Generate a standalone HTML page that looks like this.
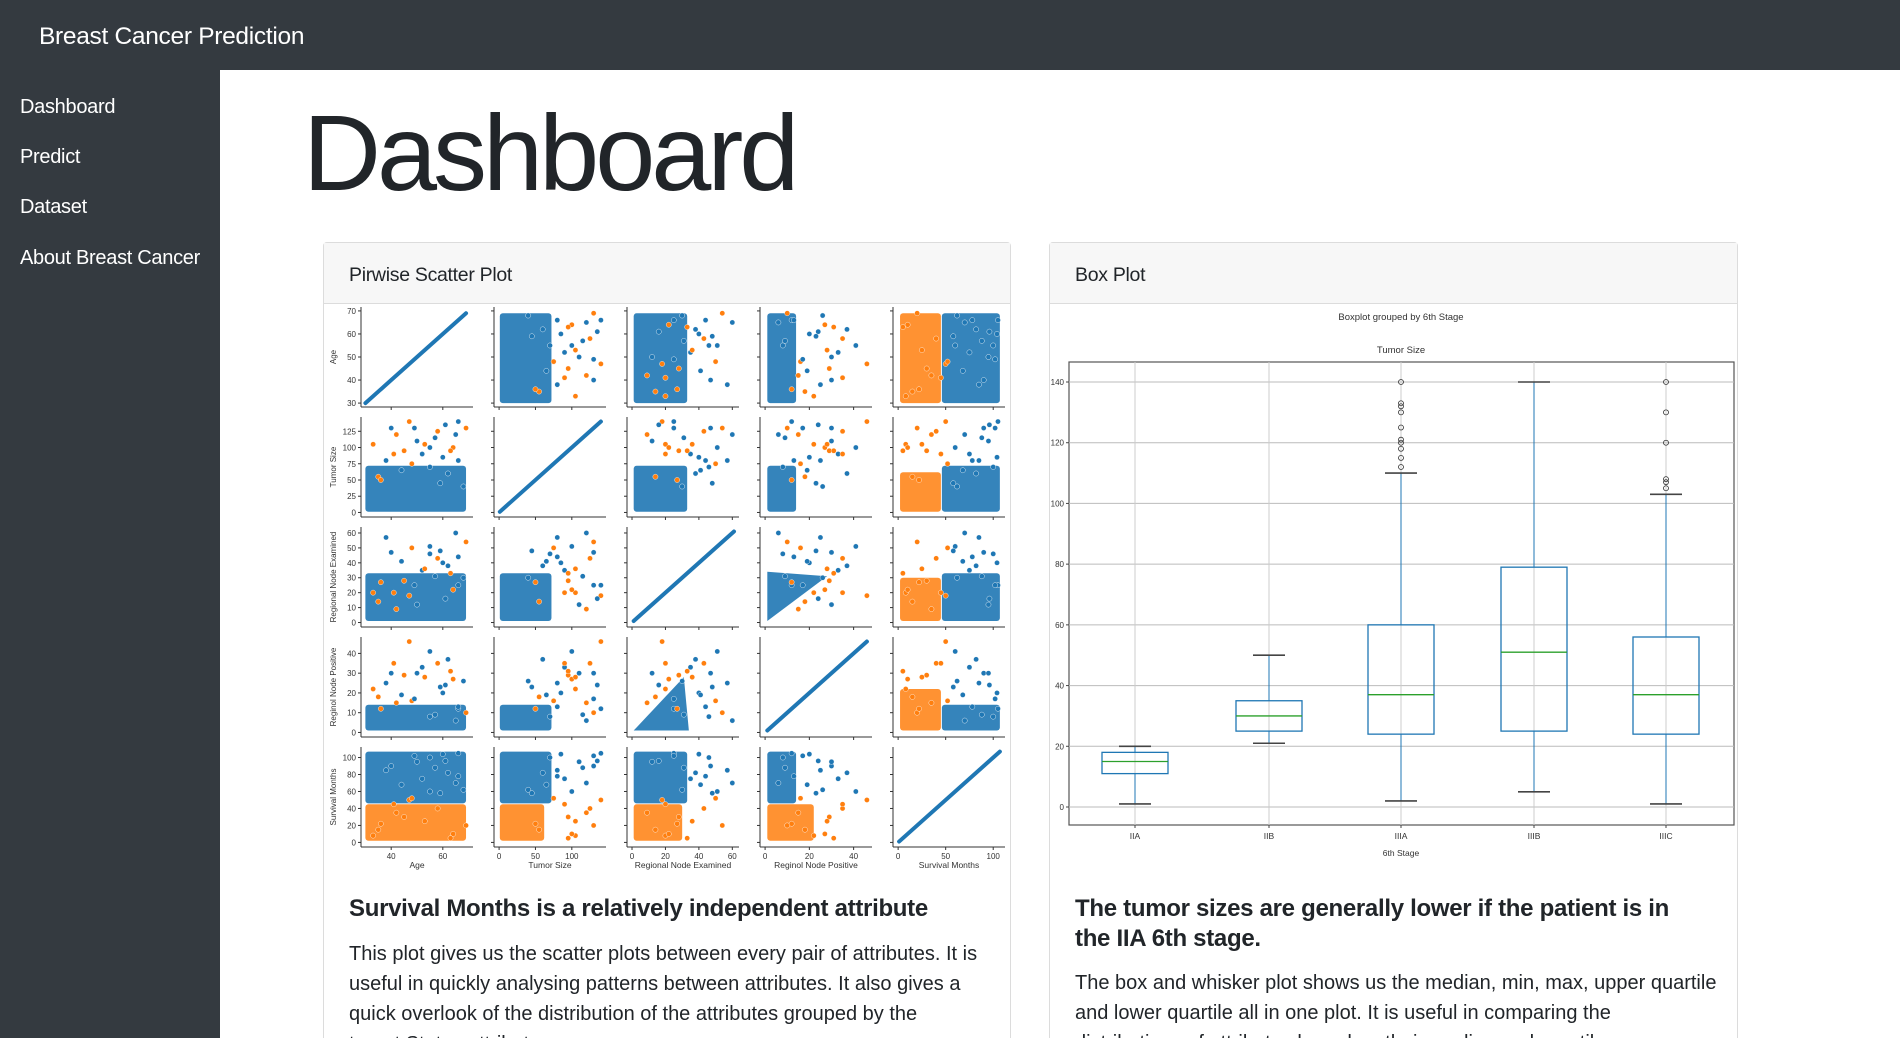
<!DOCTYPE html>
<html><head><meta charset="utf-8"><style>
*{box-sizing:border-box;margin:0;padding:0}
html,body{width:1900px;height:1038px;overflow:hidden}
body{background:#fff;font-family:"Liberation Sans",sans-serif;color:#212529;position:relative}
.topbar{position:absolute;left:0;top:0;width:1900px;height:70px;background:#343a40}
.brand{position:absolute;left:39px;top:23px;font-size:24.5px;color:#fff;letter-spacing:-0.3px}
.side{position:absolute;left:0;top:70px;width:220px;height:968px;background:#343a40}
.nav{position:absolute;left:20px;font-size:20px;color:#fff;letter-spacing:-0.3px}
h1{position:absolute;left:303px;top:99px;font-size:108px;font-weight:normal;letter-spacing:-4px;color:#212529;line-height:1}
.card{position:absolute;top:242px;height:796px;border:1px solid #dcdcdc;border-bottom:none;border-radius:4px 4px 0 0;background:#fff}
.chead{height:61px;background:#f7f7f7;border-bottom:1px solid #dcdcdc;font-size:19.5px;padding:21px 0 0 25px;letter-spacing:-0.3px}
.h5{position:absolute;font-size:24px;font-weight:bold;white-space:nowrap;letter-spacing:-0.3px;line-height:30px}
.p{position:absolute;font-size:20px;white-space:nowrap;line-height:30px;letter-spacing:0px}
svg{position:absolute;left:0;top:0}
</style></head><body>
<div class="topbar"><div class="brand">Breast Cancer Prediction</div></div>
<div class="side">
<div class="nav" style="top:26px">Dashboard</div>
<div class="nav" style="top:76px">Predict</div>
<div class="nav" style="top:126px">Dataset</div>
<div class="nav" style="top:177px">About Breast Cancer</div>
</div>
<h1>Dashboard</h1>
<div class="card" style="left:323px;width:688px"><div class="chead">Pirwise Scatter Plot</div></div>
<div class="card" style="left:1049px;width:689px"><div class="chead">Box Plot</div></div>
<div class="h5" style="left:349px;top:894px">Survival Months is a relatively independent attribute</div>
<div class="p" style="left:349px;top:939px">This plot gives us the scatter plots between every pair of attributes. It is<br>useful in quickly analysing patterns between attributes. It also gives a<br>quick overlook of the distribution of the attributes grouped by the<br>target Status attribute.</div>
<div class="h5" style="left:1075px;top:894px">The tumor sizes are generally lower if the patient is in<br>the IIA 6th stage.</div>
<div class="p" style="left:1075px;top:968px">The box and whisker plot shows us the median, min, max, upper quartile<br>and lower quartile all in one plot. It is useful in comparing the<br>distributions of attributes based on their median and quartiles.</div>
<svg id="chart" width="1900" height="1038"></svg>
<script>
// ---------- scatter matrix data ----------
const varNames=['Age','Tumor Size','Regional Node Examined','Reginol Node Positive','Survival Months'];
const domLo=[28.3,-7,-3,-2.3,-5.4];
const domHi=[71.7,147,64,48.3,112.4];
const xTicks=[[40,60],[0,50,100],[0,20,40,60],[0,20,40],[0,50,100]];
const yTicks=[[30,40,50,60,70],[0,25,50,75,100,125],[0,10,20,30,40,50,60],[0,10,20,30,40],[0,20,40,60,80,100]];
const diagMin=[30,1,1,1,1];
const diagMax=[69,140,61,46,107];
const blueLo=[30,1,1,1,46];
const blueHi=[69,72,33,14,107];
const orangeLo=[30,1,1,1,2];
const orangeHi=[69,62,30,22,45];
const triRNE=[1,34,31];
const triRNP=[1,1,28];
// sparse records: age, tumor, rne, rnp, sm, dead
const records=[
[47,140,18,46,50,1],[65,120,60,6,70,0],[40,130,47,30,90,0],[55,100,51,41,60,0],[66,140,25,12,105,0],
[33,105,20,22,8,1],[58,125,43,35,40,1],[60,85,40,20,104,0],[45,95,28,29,30,1],[69,130,54,10,20,1],
[38,80,57,25,85,0],[50,110,12,30,95,0],[62,60,38,37,82,0],[42,120,9,15,35,1],[55,70,46,8,100,0],
[68,40,30,26,62,0],[35,55,14,18,15,1],[52,90,35,33,75,0],[64,100,22,27,10,1],[48,75,50,16,52,1],
[57,115,31,9,88,0],[44,65,41,19,68,0],[61,135,16,24,96,0],[36,50,27,12,22,1],[53,105,36,28,25,1],
[66,80,44,13,78,0],[41,90,20,35,45,1],[59,45,48,23,58,0],[49,130,25,17,102,0],[63,95,33,31,5,1]
];
// ---------- box plot data ----------
const stages=['IIA','IIB','IIIA','IIIB','IIIC'];
const whiskLo=[1,21,2,5,1];
const q1=[11,25,24,25,24];
const med=[15,30,37,51,37];
const q3=[18,35,60,79,56];
const whiskHi=[20,50,110,140,103];
const outliers=[[],[],[112,115,118,120,121,125,130,132,133,140],[],[105,107,108,120,130,140]];
const boxTicks=[0,20,40,60,80,100,120,140];

const NS='http://www.w3.org/2000/svg';
const svg=document.getElementById('chart');
function mk(tag,attrs,parent){const e=document.createElementNS(NS,tag);for(const k in attrs)e.setAttribute(k,attrs[k]);(parent||svg).appendChild(e);return e;}

// ---- scatter matrix ----
const colLeft=361,colPitch=133,panW=112,rowTop=307,rowPitch=110,panH=100;
const BLUE='#1f77b4',ORANGE='#ff7f0e';
for(let r=0;r<5;r++){for(let c=0;c<5;c++){
  const x0=colLeft+c*colPitch,y0=rowTop+r*rowPitch;
  const sx=v=>x0+(v-domLo[c])/(domHi[c]-domLo[c])*panW;
  const sy=v=>y0+panH-(v-domLo[r])/(domHi[r]-domLo[r])*panH;
  const g=mk('g',{});
  
  
  if(r===c){
    const ln=mk('line',{x1:sx(diagMin[c]),y1:sy(diagMin[r]),x2:sx(diagMax[c]),y2:sy(diagMax[r]),stroke:BLUE,'stroke-width':4,'stroke-linecap':'round'},g);
    
    
  } else if((r===2&&c===3)||(r===3&&c===2)){
    const pts=triRNE.map((e,i)=>{const p=triRNP[i];return r===2?sx(p)+','+sy(e):sx(e)+','+sy(p);}).join(' ');
    const tri=mk('polygon',{points:pts,fill:BLUE,opacity:0.9},g);
    
    
  } else {
    const b=mk('rect',{x:sx(blueLo[c]),y:sy(blueHi[r]),width:sx(blueHi[c])-sx(blueLo[c]),height:sy(blueLo[r])-sy(blueHi[r]),fill:BLUE,opacity:0.9,rx:3},g);
    
    
    if(r===4||c===4){
      const o=mk('rect',{x:sx(orangeLo[c]),y:sy(orangeHi[r]),width:sx(orangeHi[c])-sx(orangeLo[c]),height:sy(orangeLo[r])-sy(orangeHi[r]),fill:ORANGE,opacity:0.85,rx:3},g);
      
      
    }
  }
  if(r!==c){records.forEach(rec=>{
    const cc=mk('circle',{cx:sx(rec[c]),cy:sy(rec[r]),r:2.6,fill:rec[5]?ORANGE:BLUE,stroke:'#fff','stroke-width':0.4},g);
    
    
  });}
  mk('line',{x1:x0,y1:y0,x2:x0,y2:y0+panH,stroke:'#333','stroke-width':1},g);
  mk('line',{x1:x0,y1:y0+panH,x2:x0+panW,y2:y0+panH,stroke:'#333','stroke-width':1},g);
  yTicks[r].forEach(t=>{mk('line',{x1:x0-3,x2:x0,y1:sy(t),y2:sy(t),stroke:'#333'},g);
    if(c===0){const tx=mk('text',{x:x0-5,y:sy(t)+3,'font-size':8,'text-anchor':'end',fill:'#333'},g);tx.textContent=t;
      }});
  xTicks[c].forEach(t=>{mk('line',{x1:sx(t),x2:sx(t),y1:y0+panH,y2:y0+panH+3,stroke:'#333'},g);
    if(r===4){const tx=mk('text',{x:sx(t),y:y0+panH+12,'font-size':8,'text-anchor':'middle',fill:'#333'},g);tx.textContent=t;
      }});
}}
for(let i=0;i<5;i++){
  const xl=mk('text',{x:colLeft+i*colPitch+panW/2,y:rowTop+4*rowPitch+panH+21,'font-size':8.5,'text-anchor':'middle',fill:'#333'});
  xl.textContent=varNames[i];
  
  
  const cy=rowTop+i*rowPitch+panH/2;
  const yl=mk('text',{x:336,y:cy,'font-size':8,'text-anchor':'middle',fill:'#333',transform:'rotate(-90 336 '+cy+')'});
  yl.textContent=varNames[i];
  
  
}

// ---- box plot ----
const bx0=1069,bx1=1734,by0=362,by1=825;
const byS=v=>807-v*425/140;
const catX=[1135,1269,1401,1534,1666];
const bg=mk('rect',{x:bx0,y:by0,width:bx1-bx0,height:by1-by0,fill:'#fff',stroke:'#555','stroke-width':1.2});


boxTicks.forEach(t=>{mk('line',{x1:bx0,x2:bx1,y1:byS(t),y2:byS(t),stroke:'#bbb','stroke-width':1});
  mk('line',{x1:bx0-3,x2:bx0,y1:byS(t),y2:byS(t),stroke:'#444'});
  const tx=mk('text',{x:bx0-5,y:byS(t)+3,'font-size':8,'text-anchor':'end',fill:'#333'});tx.textContent=t;
  });
stages.forEach((s,i)=>{
  const cx=catX[i];
  mk('line',{x1:cx,x2:cx,y1:by0,y2:by1,stroke:'#ccc','stroke-width':1});
  mk('line',{x1:cx,x2:cx,y1:by1,y2:by1+3,stroke:'#444'});
  const g=mk('g',{});
  
  
  mk('line',{x1:cx,x2:cx,y1:byS(whiskLo[i]),y2:byS(q1[i]),stroke:BLUE,'stroke-width':1},g);
  mk('line',{x1:cx,x2:cx,y1:byS(q3[i]),y2:byS(whiskHi[i]),stroke:BLUE,'stroke-width':1},g);
  mk('line',{x1:cx-16,x2:cx+16,y1:byS(whiskLo[i]),y2:byS(whiskLo[i]),stroke:'#444','stroke-width':1.6},g);
  mk('line',{x1:cx-16,x2:cx+16,y1:byS(whiskHi[i]),y2:byS(whiskHi[i]),stroke:'#444','stroke-width':1.6},g);
  mk('rect',{x:cx-33,y:byS(q3[i]),width:66,height:byS(q1[i])-byS(q3[i]),fill:'none',stroke:BLUE,'stroke-width':1.3},g);
  mk('line',{x1:cx-33,x2:cx+33,y1:byS(med[i]),y2:byS(med[i]),stroke:'#2ca02c','stroke-width':1.3},g);
  outliers[i].forEach(o=>{const oc=mk('circle',{cx:cx,cy:byS(o),r:2.5,fill:'none',stroke:'#333','stroke-width':0.8},g);
    });
  const tx=mk('text',{x:cx,y:by1+14,'font-size':8.5,'text-anchor':'middle',fill:'#333'});tx.textContent=s;
  
});
const t1=mk('text',{x:1401,y:320,'font-size':9.5,'text-anchor':'middle',fill:'#333'});t1.textContent='Boxplot grouped by 6th Stage';

const t2=mk('text',{x:1401,y:353,'font-size':9.5,'text-anchor':'middle',fill:'#333'});t2.textContent='Tumor Size';

const t3=mk('text',{x:1401,y:856,'font-size':8.5,'text-anchor':'middle',fill:'#333'});t3.textContent='6th Stage';

</script>
</body></html>
